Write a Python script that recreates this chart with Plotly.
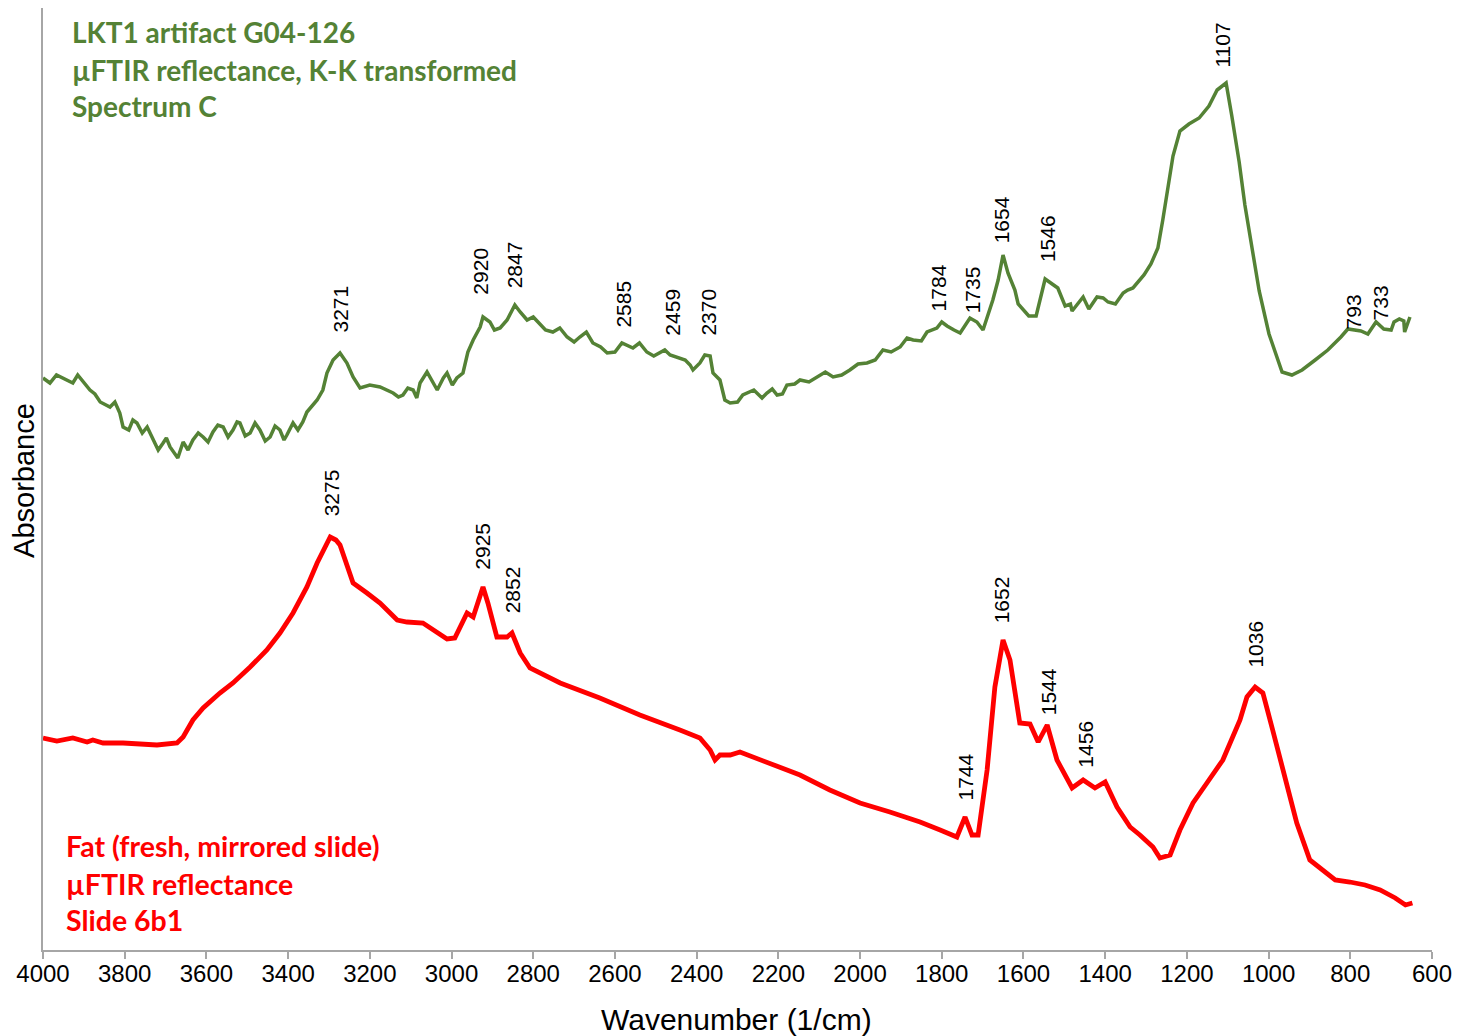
import plotly.graph_objects as go

# ---- Data ----
green_wn = [4000, 3983, 3951, 3927, 3902, 3885, 3860, 3836, 3812, 3804, 3770, 3745, 3731, 3706, 3689, 3670,
            3657, 3633, 3608, 3584, 3559, 3535, 3518, 3493, 3469, 3444, 3420, 3403, 3388, 3364, 3354, 3329,
            3315, 3305, 3290, 3273, 3256, 3241, 3224, 3200, 3175, 3143, 3119, 3094, 3077, 3060, 3045, 3011,
            2987, 2972, 2960, 2947, 2930, 2923, 2906, 2881, 2864, 2845, 2832, 2815, 2783, 2752, 2717, 2686,
            2654, 2619, 2600, 2583, 2556, 2522, 2490, 2465, 2441, 2416, 2409, 2392, 2380, 2367, 2360, 2343,
            2331, 2318, 2287, 2228, 2203, 2179, 2147, 2105, 2066, 2025, 1983, 1944, 1902, 1870, 1836, 1812,
            1787, 1755, 1731, 1714, 1699, 1675, 1662, 1650, 1638, 1621, 1613, 1587, 1569, 1547, 1516, 1498,
            1481, 1454, 1420, 1393, 1356, 1332, 1305, 1288, 1271, 1259, 1246, 1234, 1217, 1195, 1170, 1146,
            1126, 1104, 1090, 1072, 1058, 1041, 1023, 999, 967, 943, 918, 886, 855, 823, 806, 774, 757, 737,
            718, 693, 669, 667, 654]
green_abs = [0.572, 0.567, 0.572, 0.567, 0.568, 0.560, 0.548, 0.543, 0.537, 0.523, 0.527, 0.523, 0.510, 0.507, 0.503, 0.492,
             0.508, 0.510, 0.513, 0.518, 0.523, 0.520, 0.527, 0.517, 0.520, 0.513, 0.520, 0.515, 0.527, 0.528, 0.538, 0.550,
             0.560, 0.577, 0.590, 0.597, 0.587, 0.573, 0.562, 0.565, 0.563, 0.557, 0.555, 0.560, 0.567, 0.578, 0.568, 0.577,
             0.572, 0.577, 0.598, 0.610, 0.623, 0.633, 0.628, 0.622, 0.630, 0.645, 0.638, 0.630, 0.625, 0.618, 0.613, 0.613,
             0.607, 0.597, 0.598, 0.607, 0.602, 0.598, 0.597, 0.595, 0.592, 0.585, 0.580, 0.587, 0.595, 0.594, 0.577, 0.570,
             0.550, 0.547, 0.555, 0.557, 0.555, 0.565, 0.570, 0.573, 0.573, 0.580, 0.587, 0.600, 0.603, 0.610, 0.618, 0.622,
             0.624, 0.617, 0.632, 0.628, 0.620, 0.650, 0.670, 0.695, 0.677, 0.660, 0.646, 0.634, 0.634, 0.671, 0.662, 0.644,
             0.639, 0.653, 0.653, 0.648, 0.657, 0.662, 0.675, 0.686, 0.702, 0.730, 0.765, 0.794, 0.819, 0.826, 0.832, 0.844,
             0.860, 0.867, 0.834, 0.788, 0.745, 0.705, 0.659, 0.616, 0.578, 0.575, 0.580, 0.590, 0.600, 0.613, 0.621, 0.619, 0.616, 0.628,
             0.621, 0.628, 0.629, 0.618, 0.633]

# extra readings of the noisy stretches of the green spectrum
green_wn_fine = [3967, 3915, 3873, 3824, 3790, 3780, 3757, 3718, 3698, 3680, 3645, 3620, 3596, 3572, 3547,
                 3525, 3505, 3481, 3456, 3432, 3410, 3376, 3340, 3130, 3107, 3085, 3035, 3020, 2998,
                 2895, 2800, 2770, 2735, 2700, 2670, 2635, 2540, 2505, 2478, 2428,
                 2300, 2260, 2240, 2215, 2190, 2160, 2125, 2085, 2045, 2005, 1963, 1924, 1885, 1850, 1800, 1770,
                 1485, 1440, 1405, 1375, 1345, 700, 680]
green_abs_fine = [0.575, 0.575, 0.556, 0.548, 0.520, 0.530, 0.517, 0.500, 0.512, 0.498, 0.500, 0.517, 0.508, 0.525, 0.513,
                  0.528, 0.514, 0.527, 0.509, 0.524, 0.510, 0.520, 0.545, 0.553, 0.562, 0.552, 0.560, 0.572, 0.565,
                  0.620, 0.633, 0.620, 0.622, 0.608, 0.618, 0.603, 0.607, 0.594, 0.600, 0.590,
                  0.548, 0.560, 0.552, 0.561, 0.556, 0.566, 0.568, 0.578, 0.575, 0.586, 0.590, 0.598, 0.612, 0.609, 0.628, 0.620,
                  0.646, 0.641, 0.652, 0.646, 0.660, 0.620, 0.631]

red_wn = [4000, 3966, 3927, 3892, 3878, 3853, 3804, 3763, 3721, 3672, 3657, 3633, 3608, 3567, 3535, 3493,
          3452, 3420, 3388, 3354, 3329, 3297, 3283, 3273, 3241, 3207, 3175, 3133, 3109, 3070, 3036, 3011,
          2992, 2962, 2947, 2923, 2911, 2889, 2864, 2852, 2845, 2832, 2808, 2734, 2637, 2539, 2441, 2392,
          2367, 2355, 2343, 2318, 2294, 2245, 2196, 2147, 2074, 2000, 1927, 1853, 1804, 1763, 1743, 1726,
          1711, 1689, 1670, 1650, 1633, 1609, 1584, 1564, 1542, 1518, 1481, 1454, 1425, 1400, 1371, 1339,
          1315, 1283, 1266, 1241, 1217, 1185, 1151, 1112, 1070, 1053, 1033, 1014, 990, 955, 931, 899,
          874, 837, 801, 764, 727, 690, 665, 648]
red_abs = [0.212, 0.209, 0.212, 0.208, 0.210, 0.207, 0.207, 0.206, 0.205, 0.207, 0.213, 0.230, 0.242, 0.257, 0.267, 0.283,
           0.300, 0.317, 0.337, 0.363, 0.387, 0.413, 0.410, 0.405, 0.367, 0.357, 0.347, 0.330, 0.328, 0.327, 0.317, 0.311,
           0.312, 0.337, 0.333, 0.363, 0.347, 0.313, 0.313, 0.317, 0.310, 0.297, 0.282, 0.267, 0.252, 0.235, 0.220, 0.212,
           0.200, 0.190, 0.195, 0.195, 0.198, 0.190, 0.182, 0.175, 0.160, 0.147, 0.138, 0.128, 0.120, 0.113, 0.133, 0.115,
           0.115, 0.180, 0.263, 0.310, 0.290, 0.227, 0.226, 0.208, 0.225, 0.190, 0.162, 0.170, 0.162, 0.168, 0.143, 0.123,
           0.115, 0.103, 0.092, 0.095, 0.120, 0.147, 0.167, 0.190, 0.230, 0.253, 0.263, 0.257, 0.220, 0.163, 0.127, 0.090,
           0.082, 0.070, 0.068, 0.065, 0.060, 0.052, 0.045, 0.047]

# Peak labels: text, label position (wavenumber), label base (absorbance)
green_peak_labels = ["3271", "2920", "2847", "2585", "2459", "2370", "1784", "1735", "1654", "1546", "1107", "793", "733"]
green_peak_x = [3273, 2930, 2845, 2580, 2460, 2372, 1807, 1724, 1653, 1541, 1114, 791, 725]
green_peak_y = [0.615, 0.653, 0.660, 0.620, 0.612, 0.612, 0.637, 0.635, 0.705, 0.686, 0.880, 0.619, 0.628]

red_peak_labels = ["3275", "2925", "2852", "1744", "1652", "1544", "1456", "1036"]
red_peak_x = [3293, 2925, 2850, 1743, 1653, 1538, 1449, 1033]
red_peak_y = [0.432, 0.378, 0.335, 0.147, 0.325, 0.233, 0.180, 0.280]

green_caption = ["LKT1 artifact G04-126", "µFTIR reflectance, K-K transformed", "Spectrum C"]
red_caption = ["Fat (fresh, mirrored slide)", "µFTIR reflectance", "Slide 6b1"]

x_ticks = list(range(4000, 599, -200))

GREEN = "#548235"
RED = "#FF0000"
AXIS = "#A6A6A6"
TICK_FONT = "Liberation Sans Narrow, Arial Narrow, Liberation Sans, Arial, sans-serif"
LABEL_FONT = "Liberation Sans, Arial, sans-serif"
BOLD_FONT = "Lato, Open Sans, sans-serif"

# combine the coarse and fine readings of the green spectrum, ordered by wavenumber
green_pts = sorted(zip(green_wn + green_wn_fine, green_abs + green_abs_fine), key=lambda p: -p[0])
gx = [p[0] for p in green_pts]
gy = [p[1] for p in green_pts]

fig = go.Figure()
fig.add_trace(go.Scatter(x=gx, y=gy, mode="lines",
                         line=dict(color=GREEN, width=3.5), showlegend=False, hoverinfo="skip"))
fig.add_trace(go.Scatter(x=red_wn, y=red_abs, mode="lines",
                         line=dict(color=RED, width=4.8), showlegend=False, hoverinfo="skip"))

annotations = []
for t, x, y in zip(green_peak_labels + red_peak_labels, green_peak_x + red_peak_x, green_peak_y + red_peak_y):
    annotations.append(dict(x=x, y=y, xref="x", yref="y", text=t, textangle=-90, showarrow=False,
                            xanchor="center", yanchor="bottom",
                            font=dict(family=LABEL_FONT, size=21, color="black")))

for line, yp in zip(green_caption, [0.9745, 0.9342, 0.8960]):
    annotations.append(dict(xref="paper", yref="paper", x=0.0194, y=yp, xanchor="left", yanchor="middle",
                            showarrow=False, text="<b>" + line + "</b>",
                            font=dict(family=BOLD_FONT, size=28, color=GREEN)))
for line, yp in zip(red_caption, [0.1104, 0.0701, 0.0318]):
    annotations.append(dict(xref="paper", yref="paper", x=0.0151, y=yp, xanchor="left", yanchor="middle",
                            showarrow=False, text="<b>" + line + "</b>",
                            font=dict(family=BOLD_FONT, size=28.5, color=RED)))

annotations.append(dict(xref="paper", yref="paper", x=-0.0137, y=0.499, xanchor="center", yanchor="middle",
                        text="Absorbance", textangle=-90, showarrow=False,
                        font=dict(family=LABEL_FONT, size=29, color="black")))
annotations.append(dict(xref="paper", yref="paper", x=0.499, y=-0.0743, xanchor="center", yanchor="middle",
                        text="Wavenumber (1/cm)", showarrow=False,
                        font=dict(family=LABEL_FONT, size=30, color="black")))

# the page body adds an 8 px margin, so the figure is sized/offset to compensate
fig.update_layout(
    width=1460, height=1028,
    margin=dict(l=35, r=36, t=0, b=86),
    paper_bgcolor="white", plot_bgcolor="white",
    annotations=annotations,
    xaxis=dict(range=[4000, 600], tickvals=x_ticks, ticktext=[str(v) for v in x_ticks],
               showgrid=False, zeroline=False, showline=True, linecolor=AXIS, linewidth=2,
               ticks="outside", ticklen=7, tickwidth=2, tickcolor=AXIS, ticklabelstandoff=-6,
               tickfont=dict(family=TICK_FONT, size=24, color="black")),
    yaxis=dict(range=[0, 0.942], showgrid=False, zeroline=False, showline=True, linecolor=AXIS,
               linewidth=2, showticklabels=False, ticks=""),
)

fig.write_html("out.html")
